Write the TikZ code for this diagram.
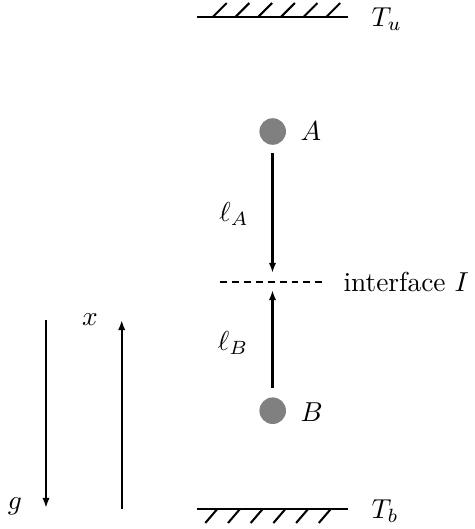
\documentclass[tikz,border=0pt]{standalone}
\usetikzlibrary{arrows.meta}
\begin{document}
\begin{tikzpicture}[x=0.365pt,y=-0.365pt,
  wall/.style={line width=0.75pt},
  arr/.style={line width=0.75pt,-{Latex[length=3.7pt,width=2.7pt]}},
  ball/.style={circle,fill=gray,inner sep=0pt,minimum size=9.7pt},
  lbl/.style={inner sep=0pt,anchor=base west},
  lblc/.style={inner sep=0pt,anchor=base},
  iface/.style={line width=0.75pt,dash pattern=on 2.55pt off 1.8pt}]
\useasboundingbox (0,0) rectangle (475,529);
% top wall
\coordinate (tuL) at (197,17);
\coordinate (tuR) at (348,17);
\draw[wall] (tuL) -- (tuR);
\foreach \k in {0,...,5}{
  \draw[wall] (212.7+22.7*\k,17) -- ++(14,-14);
}
\node[lbl] (Tu) at (371,26.5) {$T_u$};
% bottom wall
\coordinate (tbL) at (197,509);
\coordinate (tbR) at (348,509);
\draw[wall] (tbL) -- (tbR);
\foreach \k in {0,...,5}{
  \draw[wall] (217.3+22.7*\k,509) -- ++(-12,14);
}
\node[lbl] (Tb) at (371,518) {$T_b$};
% balls
\node[ball] (A) at (272.7,131.5) {};
\node[lbl] (Alab) at (300,140.5) {$A$};
\node[ball] (B) at (272.7,410.7) {};
\node[lbl] (Blab) at (300,421) {$B$};
% interface
\coordinate (iL) at (220,282);
\coordinate (iR) at (323,282);
\draw[iface] (iL) -- (iR);
\node[lbl] (ilab) at (343,291.7) {interface $I$};
% arrows to interface
\coordinate (a0) at (272.5,153);
\coordinate (a1) at (272.5,273);
\coordinate (b0) at (272.5,388);
\coordinate (b1) at (272.5,290);
\draw[arr] (a0) -- (a1);
\draw[arr] (b0) -- (b1);
\node[lblc] (lA) at (234,221) {$\ell_A$};
\node[lblc] (lB) at (233,350) {$\ell_B$};
% g and x
\coordinate (g0) at (46,320);
\coordinate (g1) at (46,508);
\coordinate (x0) at (121.7,509);
\coordinate (x1) at (121.7,320);
\draw[arr] (g0) -- (g1);
\draw[arr] (x0) -- (x1);
\node[lblc] (glab) at (15,509) {$g$};
\node[lblc] (xlab) at (90,325) {$x$};
\end{tikzpicture}
\end{document}
